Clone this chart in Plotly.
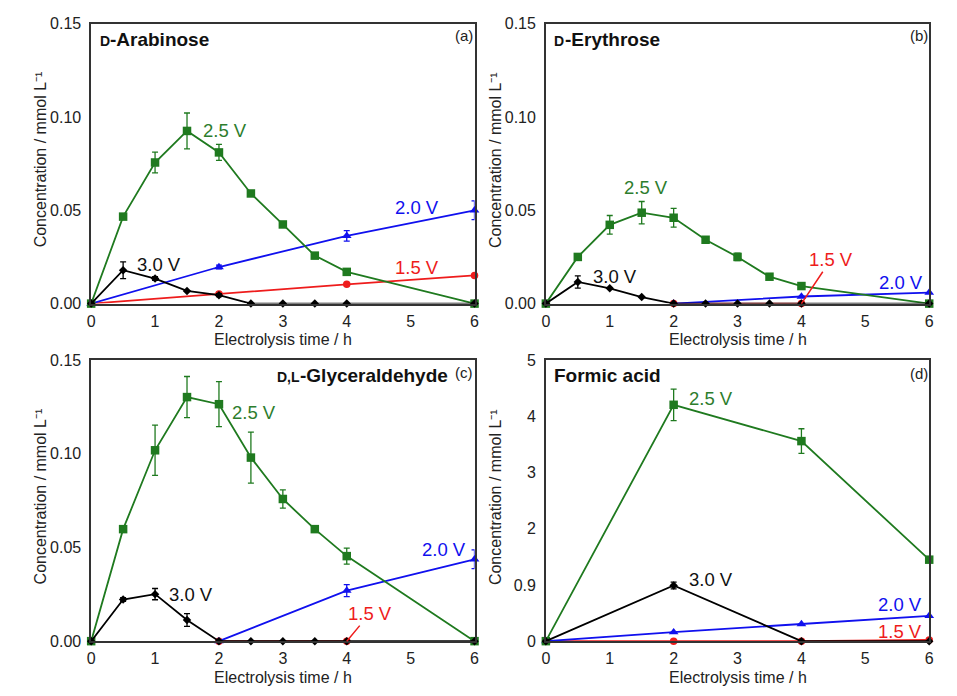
import plotly.graph_objects as go

# ---------------- data ----------------
time_fine = [0, 0.5, 1, 1.5, 2, 2.5, 3, 3.5, 4, 6]
time_coarse = [0, 2, 4, 6]
time_late = [2, 4, 6]
time_mid = [2, 4]

# (a) D-Arabinose
a_25 = [0, 0.0466, 0.0756, 0.0925, 0.081, 0.059, 0.0424, 0.0257, 0.017, 0]
a_25_err = [0, 0.001, 0.0056, 0.0096, 0.0043, 0.001, 0.0015, 0.001, 0.001, 0]
a_30 = [0, 0.0179, 0.0134, 0.0068, 0.0045, 0, 0, 0, 0, 0]
a_30_err = [0, 0.0045, 0.001, 0, 0.0008, 0, 0, 0, 0, 0]
a_20 = [0, 0.0196, 0.0363, 0.050]
a_20_err = [0, 0.001, 0.0028, 0.005]
a_15 = [0, 0.0052, 0.0103, 0.0151]
a_15_err = [0, 0, 0, 0]

# (b) D-Erythrose
b_25 = [0, 0.025, 0.0422, 0.0487, 0.046, 0.0342, 0.025, 0.0144, 0.0094, 0]
b_25_err = [0, 0.0015, 0.005, 0.006, 0.005, 0.001, 0.002, 0.001, 0.0005, 0]
b_30 = [0, 0.0116, 0.0082, 0.0035, 0, 0, 0, 0, 0, 0]
b_30_err = [0, 0.0033, 0, 0, 0, 0, 0, 0, 0, 0]
b_20 = [0, 0.0038, 0.0059]
b_20_err = [0, 0, 0]
b_15 = [0, 0]
b_15_err = [0, 0]

# (c) D,L-Glyceraldehyde
c_25 = [0, 0.0598, 0.1019, 0.1303, 0.1265, 0.098, 0.0759, 0.0598, 0.0454, 0]
c_25_err = [0, 0.001, 0.0134, 0.011, 0.012, 0.0136, 0.0049, 0.001, 0.0043, 0]
c_30 = [0, 0.0222, 0.0251, 0.0113, 0, 0, 0, 0, 0, 0]
c_30_err = [0, 0.001, 0.003, 0.0034, 0, 0, 0, 0, 0, 0]
c_20 = [0, 0.027, 0.0437]
c_20_err = [0, 0.0032, 0.005]
c_15 = [0, 0]
c_15_err = [0, 0]

# (d) Formic acid
d_25 = [0, 4.206, 3.56, 1.45]
d_25_err = [0, 0.28, 0.22, 0.03]
d_30 = [0, 0.99, 0, 0]
d_30_err = [0, 0.06, 0, 0]
d_20 = [0, 0.16, 0.305, 0.45]
d_20_err = [0, 0, 0, 0]
d_15 = [0, 0, 0, 0.02]
d_15_err = [0, 0, 0, 0]

# panel titles: (small-caps prefix, main text)
panel_prefix = ["D", "D", "D,L", ""]
panel_main = ["-Arabinose", "-Erythrose", "-Glyceraldehyde", "Formic acid"]
panel_tags = ["(a)", "(b)", "(c)", "(d)"]
x_ticks = [0, 1, 2, 3, 4, 5, 6]
y_ticks_sugar = [0, 0.05, 0.10, 0.15]
y_ticktext_sugar = ["0.00", "0.05", "0.10", "0.15"]
y_ticks_formic = [0, 1, 2, 3, 4, 5]
y_ticktext_formic = ["0", "0.9", "2", "3", "4", "5"]

GREEN = "#1f7a1f"
BLUE = "#1010ee"
RED = "#ee1c1c"
BLACK = "#000000"
FONT = "Liberation Sans, Arial, sans-serif"

fig = go.Figure()

# panel domains (paper coords)
W, H = 957, 696
dom_x = [(88 / W, 475 / W), (547 / W, 934 / W)]
dom_y_top = (1 - 303 / H, 1 - 16 / H)
dom_y_bot = (1 - 649 / H, 1 - 361 / H)
domains = [(dom_x[0], dom_y_top), (dom_x[1], dom_y_top),
           (dom_x[0], dom_y_bot), (dom_x[1], dom_y_bot)]

panels = [
    (time_fine, a_25, a_25_err, time_fine, a_30, a_30_err, time_coarse, a_20, a_20_err, time_coarse, a_15, a_15_err),
    (time_fine, b_25, b_25_err, time_fine, b_30, b_30_err, time_late, b_20, b_20_err, time_mid, b_15, b_15_err),
    (time_fine, c_25, c_25_err, time_fine, c_30, c_30_err, time_late, c_20, c_20_err, time_mid, c_15, c_15_err),
    (time_coarse, d_25, d_25_err, time_coarse, d_30, d_30_err, time_coarse, d_20, d_20_err, time_coarse, d_15, d_15_err),
]


def add_series(k, x, y, err, color, symbol, size):
    xa = "x" if k == 0 else f"x{k+1}"
    ya = "y" if k == 0 else f"y{k+1}"
    fig.add_trace(go.Scatter(
        x=x, y=y, xaxis=xa, yaxis=ya, mode="lines+markers",
        line=dict(color=color, width=1.8),
        marker=dict(color=color, symbol=symbol, size=size),
        error_y=dict(type="data", array=err, visible=True, color=color,
                     thickness=1.3, width=3),
        cliponaxis=False, showlegend=False, hoverinfo="x+y"))


for k, p in enumerate(panels):
    (x25, y25, e25, x30, y30, e30, x20, y20, e20, x15, y15, e15) = p
    add_series(k, x15, y15, e15, RED, "circle", 7.5)
    add_series(k, x20, y20, e20, BLUE, "triangle-up", 8.5)
    add_series(k, x25, y25, e25, GREEN, "square", 8.5)
    add_series(k, x30, y30, e30, BLACK, "diamond", 6.5)

layout = dict(
    width=W, height=H, margin=dict(l=0, r=0, t=0, b=0),
    paper_bgcolor="white", plot_bgcolor="white",
    font=dict(family=FONT, color="#222", size=15),
)
for k, (dx, dy) in enumerate(domains):
    sx = "" if k == 0 else str(k + 1)
    formic = (k == 3)
    layout["xaxis" + sx] = dict(
        domain=list(dx), range=[0, 6], anchor="y" + sx,
        tickvals=x_ticks, ticks="outside", ticklen=2, tickcolor="rgba(0,0,0,0)",
        showline=True, mirror=True, linecolor="#333", linewidth=1.5,
        showgrid=False, zeroline=False, tickfont=dict(size=16, color="#222"))
    layout["yaxis" + sx] = dict(
        domain=list(dy), range=[0, 5] if formic else [0, 0.15], anchor="x" + sx,
        tickvals=y_ticks_formic if formic else y_ticks_sugar,
        ticktext=y_ticktext_formic if formic else y_ticktext_sugar,
        ticks="outside", ticklen=5, tickcolor="rgba(0,0,0,0)",
        showline=True, mirror=True, linecolor="#333", linewidth=1.5,
        showgrid=False, zeroline=False, tickfont=dict(size=16, color="#222"))
fig.update_layout(**layout)

annotations = []


def ann(k, x, y, text, color, xanchor="center", size=18.5, **kw):
    sx = "" if k == 0 else str(k + 1)
    d = dict(x=x, y=y, xref="x" + sx, yref="y" + sx, text=text, showarrow=False,
             xanchor=xanchor, yanchor="middle",
             font=dict(family=FONT, size=size, color=color))
    d.update(kw)
    annotations.append(d)


# panel titles (small-caps prefix drawn as its own smaller bold text)
title_pos = [(0.10, 0.1413), (0.10, 0.1413), (2.87, 0.1417), (0.10, 4.72)]
prefix_width = [10.5, 10.5, 23.5, 0]
for k in range(4):
    tx, ty = title_pos[k]
    if panel_prefix[k]:
        ann(k, tx, ty, "<b>" + panel_prefix[k] + "</b>", "#111", "left", 14, yshift=-1)
    ann(k, tx, ty, "<b>" + panel_main[k] + "</b>", "#111", "left", 19,
        xshift=prefix_width[k])

ann(0, 5.84, 0.1435, panel_tags[0], "#222", "center", 15)
ann(1, 5.84, 0.1435, panel_tags[1], "#222", "center", 15)
ann(2, 5.84, 0.1432, panel_tags[2], "#222", "center", 15)
ann(3, 5.84, 4.77, panel_tags[3], "#222", "center", 15)

# series labels
ann(0, 1.72, 0.0925, "2.5 V", "#2d7d2d", "left")
ann(0, 5.47, 0.0513, "2.0 V", BLUE, "right")
ann(0, 5.47, 0.0191, "1.5 V", RED, "right")
ann(0, 0.68, 0.0209, "3.0 V", "#111", "left")

ann(1, 1.56, 0.062, "2.5 V", "#2d7d2d", "center")
ann(1, 0.70, 0.0143, "3.0 V", "#111", "left")
ann(1, 5.94, 0.0111, "2.0 V", BLUE, "right")
ann(1, 4.0, 0.0, "1.5 V", RED, "center", showarrow=True, arrowhead=0,
    arrowcolor=RED, arrowwidth=1.5, axref="x2", ayref="y2", ax=4.46, ay=0.0235)

ann(2, 2.18, 0.1223, "2.5 V", "#2d7d2d", "left")
ann(2, 1.18, 0.0251, "3.0 V", "#111", "left")
ann(2, 5.90, 0.0487, "2.0 V", BLUE, "right")
ann(2, 4.0, 0.0, "1.5 V", RED, "center", showarrow=True, arrowhead=0,
    arrowcolor=RED, arrowwidth=1.5, axref="x3", ayref="y3", ax=4.36, ay=0.0147)

ann(3, 2.21, 4.31, "2.5 V", "#2d7d2d", "left")
ann(3, 2.21, 1.09, "3.0 V", "#111", "left")
ann(3, 5.92, 0.656, "2.0 V", BLUE, "right")
ann(3, 5.92, 0.167, "1.5 V", RED, "right")

# axis titles
y_title = "Concentration / mmol L\u207b\u00b9"
x_title = "Electrolysis time / h"
for k, (dx, dy) in enumerate(domains):
    annotations.append(dict(
        x=dx[0] - 51 / W, y=(dy[0] + dy[1]) / 2 + 4 / H, xref="paper", yref="paper",
        text=y_title, textangle=-90, showarrow=False, xanchor="center", yanchor="middle",
        font=dict(family=FONT, size=16, color="#222")))
    annotations.append(dict(
        x=(dx[0] + dx[1]) / 2, y=dy[0] - 37 / H, xref="paper", yref="paper",
        text=x_title, showarrow=False, xanchor="center", yanchor="middle",
        font=dict(family=FONT, size=16, color="#222")))

fig.update_layout(annotations=annotations)
fig.write_html("out.html")
